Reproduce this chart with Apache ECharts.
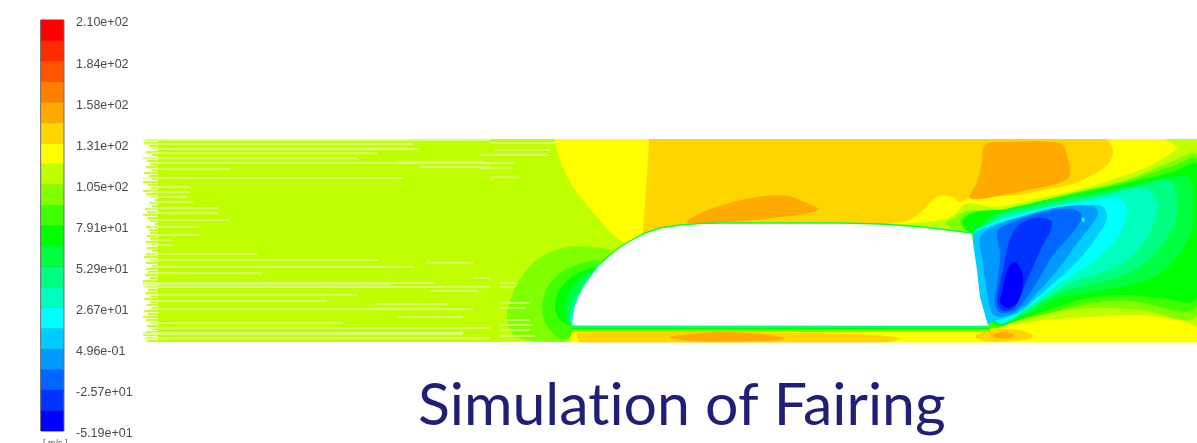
<!DOCTYPE html>
<html><head><meta charset="utf-8">
<style>html,body{margin:0;padding:0;background:#fff;overflow:hidden}#main{width:1197px;height:443px;filter:blur(0.55px)}</style>
<script src="https://cdn.jsdelivr.net/npm/echarts@6/dist/echarts.min.js"></script>
</head><body><div id="main"></div>
<script>
const levelColors=['#0000ff','#0033ff','#0066ff','#0099ff','#00ccff','#00ffff','#00ffbf','#00ff80','#00ff40','#00ff00','#40ff00','#80ff00','#bfff00','#ffff00','#ffd500','#ffaa00','#ff8000','#ff5500','#ff2b00','#ff0000'];
const tickLabels=['-5.19e+01','-2.57e+01','4.96e-01','2.67e+01','5.29e+01','7.91e+01','1.05e+02','1.31e+02','1.58e+02','1.84e+02','2.10e+02'];
const unitLabel='[ m/s ]';
const titleText='Simulation of Fairing';
const WHITE=-1;
// flat-edged regions: [level, [[x,y]...]] in image-frame domain units
const baseField=[[12,[[158,139],[1197,139],[1197,342],[158,342]]]];
const contours=[
 [13,[[555,136],[560,136],[1160,136],[1165,139],[1177,147],[1173,152],[1147,167],[1117,178],[1077,190],[1040,198],[1020,203],[993,207],[970,203],[963,205],[953,216],[925,222],[840,226],[660,232],[640,237],[625,243],[597,217],[573,187],[560,160],[556,145]]],
 [14,[[650,134],[655,134],[1100,134],[1107,139],[1113,152],[1107,165],[1087,178],[1070,185],[1043,190],[1020,195],[970,198],[960,202],[953,197],[937,197],[920,213],[903,222],[840,226],[660,232],[645,236],[643,232],[645,205],[647,175],[649,145]]],
 [15,[[985,145],[1000,142],[1060,143],[1067,155],[1070,175],[1060,183],[1027,190],[993,197],[970,198],[977,182],[982,162]]],
 [15,[[687,222],[713,208],[757,197],[787,196],[800,200],[818,210],[780,217],[713,223]]],
 [13,[[572,330],[985,328],[1003,323],[1027,323],[1043,320],[1077,318],[1127,315],[1160,317],[1197,327],[1197,345],[575,345]]],
 [14,[[578,333],[700,332],[850,334],[900,338],[880,343],[582,343]]],
 [15,[[670,337],[720,332],[770,335],[785,339],[760,341],[690,341]]],
 [14,[[975,336],[990,330],[1010,329],[1030,333],[1032,338],[1010,341],[985,341]]],
 [15,[[993,335],[1003,332],[1013,334],[1011,338],[997,338]]],
 [11,[[1197,155],[1173,161],[1147,172],[1117,183],[1077,195],[1040,203],[1020,208],[993,213],[970,210],[955,217],[945,224],[973,240],[988,326],[1010,322],[1040,314],[1090,308],[1140,310],[1197,315]]],
 [10,[[1197,160],[1173,166],[1127,181],[1077,192],[1033,203],[1000,213],[970,213],[960,222],[973,240],[990,326],[1020,320],[1050,313],[1090,303],[1130,301],[1197,306]]],
 [9,[[1197,165],[1173,172],[1127,183],[1077,194],[1033,203],[1010,209],[975,212],[963,222],[973,240],[993,323],[1027,317],[1053,308],[1087,298],[1127,295],[1160,298],[1197,298]]],
 [8,[[1173,177],[1190,178],[1193,212],[1190,235],[1167,268],[1140,282],[1093,292],[1060,298],[1030,312],[997,322],[975,240],[993,215],[1033,203],[1077,195],[1127,187]]],
 [7,[[1160,180],[1173,183],[1177,202],[1173,228],[1150,258],[1123,275],[1087,285],[1060,292],[1033,305],[997,322],[975,240],[1000,215],[1033,207],[1077,198],[1127,190]]],
 [6,[[1133,188],[1150,192],[1157,205],[1150,232],[1130,258],[1103,272],[1073,282],[1050,295],[1027,310],[997,322],[975,240],[1000,218],[1040,210],[1093,198]]],
 [5,[[1107,198],[1120,198],[1127,212],[1117,238],[1093,262],[1070,277],[1047,292],[1027,308],[997,322],[973,235],[993,223],[1027,212],[1060,205]]],
 [4,[[1093,205],[1103,207],[1107,218],[1100,232],[1083,255],[1063,275],[1040,295],[1020,312],[997,320],[985,323],[973,237],[993,225],[1027,215],[1060,207]]],
 [3,[[980,238],[983,262],[987,292],[992,313],[1003,317],[1022,308],[1040,290],[1060,267],[1078,242],[1093,223],[1098,213],[1093,206],[1060,207],[1027,215],[993,227]]],
 [2,[[997,233],[1000,255],[997,285],[995,305],[1002,313],[1018,308],[1037,282],[1053,255],[1073,232],[1082,215],[1070,209],[1043,212],[1023,218],[1000,228]]],
 [1,[[1013,232],[1007,250],[1003,270],[998,292],[998,305],[1004,311],[1015,307],[1028,278],[1043,245],[1052,227],[1050,220],[1035,218],[1020,224]]],
 [0,[[1015,262],[1022,272],[1023,285],[1017,303],[1007,308],[1000,302],[1002,292],[1008,268]]],
 [5,[[1082,217],[1085,219],[1084,222],[1082,221]]],
 [11,[[615,255],[593,247],[563,248],[533,263],[513,293],[507,320],[517,337],[550,342],[568,340],[574,327]]],
 [10,[[600,262],[583,263],[560,273],[545,293],[543,317],[557,337],[568,338],[574,325]]],
 [9,[[597,270],[580,272],[563,285],[555,303],[558,317],[568,325],[574,322]]],
 [8,[[590,272],[578,280],[568,295],[565,312],[571,325],[576,320]]],
 [6,[[580,293],[573,303],[570,315],[571,325],[576,320]]]
];
const bodyTop=[[571.5,325],[572,318],[574,307],[578,296],[584,285],[591,275],[600,264],[610,255],[620,247],[632,240],[645,233],[660,228],[680,225],[700,223.5],[720,223],[840,223],[880,224],[923,227],[972,233]];
const bodyRear=[[973,243],[977,270],[980,297],[988,325.5]];
const sharpRegions=[
 [11,[[572,326],[990,326],[990,332],[572,332]]],
 [9,[[572,326],[990,326],[990,329.5],[572,329.5]]],
 [7,[[572,326],[990,326],[990,328],[572,328]]],
 [WHITE,bodyTop.concat(bodyRear)],
 [WHITE,[[140,100],[1197,100],[1197,139],[140,139]]],
 [WHITE,[[140,342.5],[1197,342.5],[1197,370],[140,370]]]
];
// pale flow-trace rows: [y, xStart, xEnd]
const streakRows=[[140,143,490],[144,143,413],[149,150,420],[153,153,377],[158,143,357],[162,397,483],[163,150,490],[167,420,490],[169,150,230],[178,143,403],[187,150,190],[192,150,190],[197,150,187],[202,150,193],[208,150,218],[213,150,218],[220,150,230],[227,150,200],[235,150,200],[240,150,172],[245,150,172],[254,150,257],[260,150,378],[263,425,473],[267,150,413],[273,150,262],[278,473,490],[283,143,435],[284,143,390],[287,143,490],[291,430,478],[295,150,357],[301,150,327],[304,375,447],[309,150,473],[317,397,463],[323,150,343],[328,150,490],[333,143,463],[334,143,463],[338,143,490],
 [143,490,555],[150,495,550],[155,480,548],[163,480,515],[168,480,512],[177,490,520],[283,500,518],[287,500,515],[303,500,530],[308,500,525],[320,505,530],[325,500,532],[330,500,530],[336,500,535]];
// left-hand rows of the inlet edge: [y, xStart]
const inletRows=[[140,146],[143,144],[146,149],[149,152],[152,146],[155,152],[158,143],[161,147],[164,150],[167,146],[170,152],[173,144],[176,149],[179,152],[182,143],[185,148],[188,151],[191,143],[194,146],[197,150],[200,155],[203,149],[206,152],[209,145],[212,147],[215,143],[218,148],[221,150],[224,155],[227,146],[230,149],[233,150],[236,147],[239,150],[242,146],[245,152],[248,147],[251,152],[254,146],[257,144],[260,150],[263,146],[266,152],[269,146],[272,148],[275,145],[278,150],[281,143],[284,143],[287,146],[290,148],[293,145],[296,150],[299,144],[302,150],[305,147],[308,152],[311,144],[314,148],[317,143],[320,146],[323,150],[326,147],[329,152],[332,146],[335,143],[338,145],[341,147]];

// keep "ti" as two letters in canvas text, as in the reference
const _gc=HTMLCanvasElement.prototype.getContext;
HTMLCanvasElement.prototype.getContext=function(){const c=_gc.apply(this,arguments);if(c&&'letterSpacing' in c&&c.letterSpacing==='0px')c.letterSpacing='0.01px';return c;};

const bandIdx=levelColors.map((c,i)=>[i]);
const colorOf=l=>l===WHITE?'#ffffff':levelColors[l];
const polyRender=(list,smooth)=>(params,api)=>{
  const c=list[params.dataIndex];
  return {type:'polygon',shape:{points:c[1].map(p=>api.coord(p)),smooth:smooth},style:{fill:colorOf(c[0])}};
};
const chart=echarts.init(document.getElementById('main'));
chart.setOption({
 backgroundColor:'#ffffff',animation:false,
 title:[
  {text:titleText,left:413,top:371,textStyle:{fontFamily:'Lato',fontWeight:'normal',fontSize:59,color:'#1f1f75'}},
  {text:unitLabel,left:38,top:434,textStyle:{fontFamily:'Liberation Sans',fontWeight:'normal',fontSize:9,color:'#555'}}
 ],
 grid:[{left:0,right:0,top:0,bottom:0},
  {left:40.5,width:23.5,top:20,height:411,show:true,borderColor:'#777',borderWidth:1,backgroundColor:'#666'},
  {left:40.5,width:23.5,top:23,height:411}],
 xAxis:[{gridIndex:0,type:'value',min:0,max:1197,show:false},
  {gridIndex:1,type:'value',min:-0.03,max:1.03,show:false},
  {gridIndex:2,type:'value',min:0,max:1,show:false}],
 yAxis:[{gridIndex:0,type:'value',min:0,max:443,inverse:true,show:false},
  {gridIndex:1,type:'value',min:0,max:20,show:false},
  {gridIndex:2,type:'value',min:0,max:20,interval:2,position:'right',splitLine:{show:false},axisLine:{show:false},axisTick:{show:false},
   axisLabel:{margin:12,fontFamily:'Liberation Sans',fontSize:12.5,color:'#4a4a4a',formatter:v=>tickLabels[v/2]}}],
 series:[
  {type:'custom',coordinateSystem:'cartesian2d',xAxisIndex:1,yAxisIndex:1,data:bandIdx,silent:true,encode:{y:0},z:2,clip:false,
   renderItem:(p,api)=>{const i=api.value(0);const a=api.coord([0,i+1]),b=api.coord([1,i]);
    return {type:'rect',shape:{x:a[0],y:a[1],width:b[0]-a[0],height:b[1]-a[1]},style:{fill:levelColors[i],stroke:levelColors[i],lineWidth:0.3}};}},
  {type:'custom',coordinateSystem:'cartesian2d',data:baseField.map((c,i)=>[i]),silent:true,z:3,clip:false,renderItem:polyRender(baseField,0)},
  {type:'custom',coordinateSystem:'cartesian2d',data:inletRows,silent:true,z:3,clip:false,
   renderItem:(p,api)=>{const a=api.coord([api.value(1),api.value(0)]),b=api.coord([170,api.value(0)]);
    return {type:'line',shape:{x1:a[0],y1:a[1],x2:b[0],y2:b[1]},style:{stroke:levelColors[12],lineWidth:2.2,opacity:0.85}};}},
  {type:'custom',coordinateSystem:'cartesian2d',data:contours.map((c,i)=>[i]),silent:true,z:4,clip:false,renderItem:polyRender(contours,0.35)},
  {type:'custom',coordinateSystem:'cartesian2d',data:sharpRegions.map((c,i)=>[i]),silent:true,z:5,clip:false,renderItem:polyRender(sharpRegions,0)},
  {type:'custom',coordinateSystem:'cartesian2d',data:[0],silent:true,z:6,clip:false,
   renderItem:(p,api)=>({type:'polyline',shape:{points:bodyTop.slice(6).map(q=>api.coord(q))},style:{fill:'none',stroke:levelColors[8],lineWidth:1.4}})},
  {type:'custom',coordinateSystem:'cartesian2d',data:[0],silent:true,z:6,clip:false,
   renderItem:(p,api)=>({type:'polyline',shape:{points:bodyTop.slice(0,7).map(q=>api.coord(q))},style:{fill:'none',stroke:levelColors[6],lineWidth:1.4}})},
  {type:'custom',coordinateSystem:'cartesian2d',data:streakRows,silent:true,z:7,clip:false,
   renderItem:(p,api)=>{const a=api.coord([api.value(1),api.value(0)]),b=api.coord([api.value(2),api.value(0)]);
    return {type:'line',shape:{x1:a[0],y1:a[1],x2:b[0],y2:b[1]},style:{stroke:'#e4ff90',lineWidth:1.3}};}}
 ]
});
</script></body></html>
